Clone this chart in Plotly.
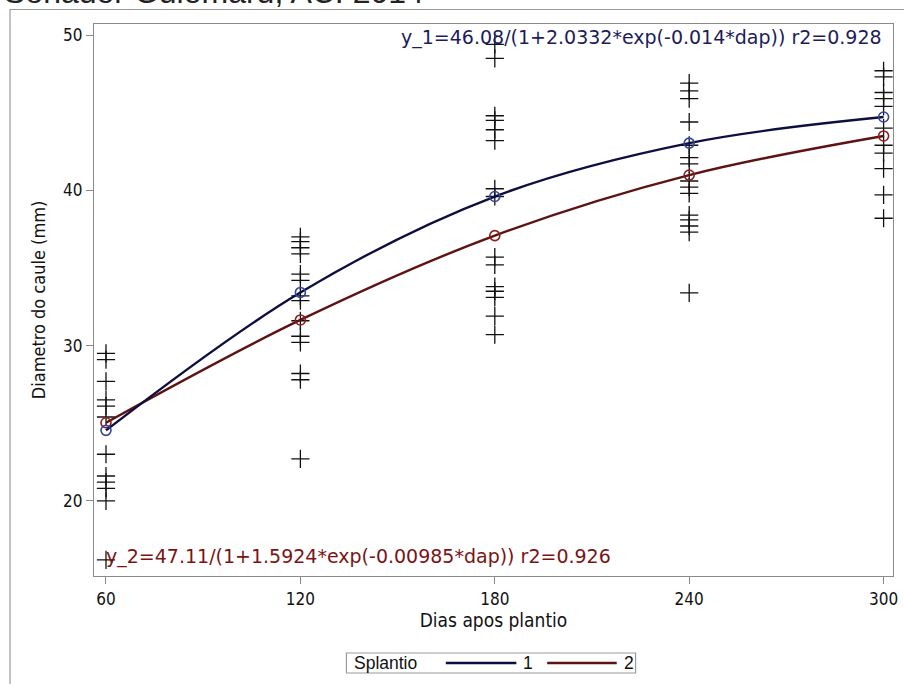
import plotly.graph_objects as go

# ---- data ----
dap = [60, 120, 180, 240, 300]
mean_1 = [24.54, 33.42, 39.60, 43.04, 44.72]
mean_2 = [25.03, 31.65, 37.08, 40.98, 43.50]

obs_60 = [29.5, 29.1, 27.7, 26.5, 26.1, 25.4, 23.0, 21.6, 21.2, 20.8, 20.0, 16.2]
obs_120 = [37.0, 36.7, 36.3, 35.9, 34.6, 34.2, 33.2, 32.9, 31.6, 30.6, 30.2, 28.2, 27.8, 22.7]
obs_180 = [49.4, 48.5, 44.8, 44.5, 43.9, 43.2, 40.1, 39.6, 35.7, 35.2, 33.8, 33.5, 33.1, 31.9, 30.7]
obs_240 = [46.9, 46.4, 45.9, 44.4, 42.9, 42.1, 41.7, 40.6, 40.2, 39.8, 38.4, 38.1, 37.7, 37.3, 33.4]
obs_300 = [47.7, 47.3, 46.3, 45.9, 45.4, 44.0, 42.9, 42.4, 41.4, 39.7, 38.2]

title_text = "Senador Guiomard, AC: 2014"
eq_1 = "y_1=46.08/(1+2.0332*exp(-0.014*dap)) r2=0.928"
eq_2 = "y_2=47.11/(1+1.5924*exp(-0.00985*dap)) r2=0.926"
x_ticks = [60, 120, 180, 240, 300]
y_ticks = [20, 30, 40, 50]
legend_title = "Splantio"
legend_labels = ["1", "2"]

# ---- styling ----
W, H = 904, 684
ML, MR, MT, MB = 94, 6, 24, 108
PW, PH = W - ML - MR, H - MT - MB
C1_LINE, C1_MARK, C1_TEXT = "#0e0e40", "#34449a", "#1c1c5c"
C2_LINE, C2_MARK, C2_TEXT = "#5e1212", "#8c1e1e", "#7a1414"
NARROW = "Liberation Sans Narrow, DejaVu Sans Condensed, Arial Narrow, sans-serif"
REG = "Liberation Sans, Arial, sans-serif"
EQF = "DejaVu Sans, sans-serif"


def px_x(p):
    return (p - ML) / PW


def px_y(p):
    return (H - MB - p) / PH


fig = go.Figure()

obs_x, obs_y = [], []
for xv, ys in zip(dap, [obs_60, obs_120, obs_180, obs_240, obs_300]):
    obs_x += [xv] * len(ys)
    obs_y += ys

fig.add_trace(go.Scatter(
    x=obs_x, y=obs_y, mode="markers", showlegend=False,
    marker=dict(symbol="cross-thin", size=13, color="#111111",
                line=dict(color="#111111", width=1.3)),
    hoverinfo="x+y"))

for means, lc, mc, name in [(mean_2, C2_LINE, C2_MARK, "2"), (mean_1, C1_LINE, C1_MARK, "1")]:
    fig.add_trace(go.Scatter(
        x=dap, y=means, mode="lines", name=name, showlegend=False,
        line=dict(color=lc, width=2.4, shape="spline", smoothing=1.0)))
    fig.add_trace(go.Scatter(
        x=dap, y=means, mode="markers", showlegend=False,
        marker=dict(symbol="circle-open", size=10, color=mc,
                    line=dict(color=mc, width=1.6))))

axis_font = dict(family=NARROW, size=17, color="#111111")

fig.update_layout(
    width=W, height=H,
    margin=dict(l=ML, r=MR, t=MT, b=MB, pad=0),
    paper_bgcolor="white", plot_bgcolor="white",
    showlegend=False,
    xaxis=dict(range=[56.3, 302.9], tickvals=x_ticks, ticktext=[str(v) for v in x_ticks],
               showgrid=False, zeroline=False, showline=True, mirror=True,
               linecolor="#8a8a8a", linewidth=1.2, ticks="outside", ticklen=7,
               tickcolor="#8a8a8a", tickfont=axis_font,
               title=dict(text="Dias apos plantio", font=dict(family=NARROW, size=19, color="#111"),
                          standoff=6)),
    yaxis=dict(range=[15.16, 50.71], tickvals=y_ticks, ticktext=[str(v) for v in y_ticks],
               showgrid=False, zeroline=False, showline=True, mirror=True,
               linecolor="#8a8a8a", linewidth=1.2, ticks="outside", ticklen=7,
               tickcolor="#8a8a8a", tickfont=axis_font,
               title=dict(text="Diametro do caule (mm)", font=dict(family=NARROW, size=18, color="#111"),
                          standoff=12)),
)

shapes = []
annotations = []

# outer frame
shapes.append(dict(type="rect", xref="paper", yref="paper",
                   x0=px_x(9.5), x1=px_x(920), y0=px_y(700), y1=px_y(9.5),
                   line=dict(color="#9a9a9a", width=1.2), fillcolor="rgba(0,0,0,0)", layer="below"))

# clipped title
annotations.append(dict(text=title_text, xref="paper", yref="paper",
                        x=px_x(1), y=px_y(12), xanchor="left", yanchor="bottom",
                        showarrow=False, font=dict(family=REG, size=32, color="#222222")))

# equations
annotations.append(dict(text=eq_1, xref="paper", yref="paper",
                        x=px_x(889), y=px_y(37), xanchor="right", yanchor="middle",
                        showarrow=False, font=dict(family=EQF, size=19, color=C1_TEXT)))
annotations.append(dict(text=eq_2, xref="paper", yref="paper",
                        x=px_x(104), y=px_y(556), xanchor="left", yanchor="middle",
                        showarrow=False, font=dict(family=EQF, size=19, color=C2_TEXT)))

# custom legend
LY = 663
shapes.append(dict(type="rect", xref="paper", yref="paper",
                   x0=px_x(348), x1=px_x(639), y0=px_y(673), y1=px_y(653),
                   line=dict(color="#9a9a9a", width=1.2), fillcolor="white"))
annotations.append(dict(text=legend_title, xref="paper", yref="paper",
                        x=px_x(354), y=px_y(LY), xanchor="left", yanchor="middle",
                        showarrow=False, font=dict(family=REG, size=17.5, color="#111")))
for (x0, x1, lc, lab) in [(448, 519, C1_LINE, legend_labels[0]), (550, 620, C2_LINE, legend_labels[1])]:
    shapes.append(dict(type="line", xref="paper", yref="paper",
                       x0=px_x(x0), x1=px_x(x1), y0=px_y(LY), y1=px_y(LY),
                       line=dict(color=lc, width=2.4)))
    annotations.append(dict(text=lab, xref="paper", yref="paper",
                            x=px_x(x1 + 5), y=px_y(LY), xanchor="left", yanchor="middle",
                            showarrow=False, font=dict(family=REG, size=17.5, color="#111")))

fig.update_layout(shapes=shapes, annotations=annotations)
fig.write_html("out.html", config={"displayModeBar": False},
               post_script="document.body.style.margin='0';")
